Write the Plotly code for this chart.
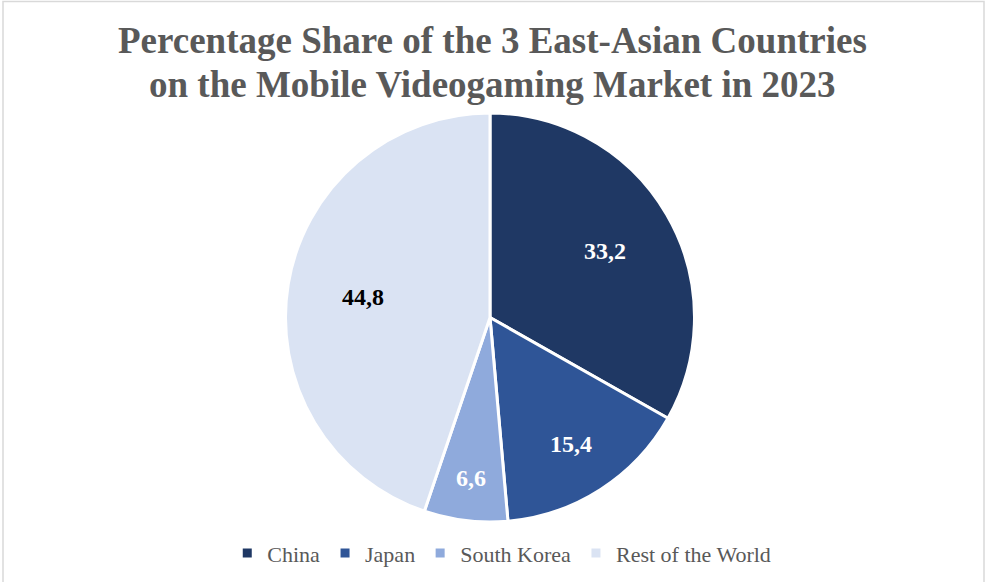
import math
import plotly.graph_objects as go

# Market share of mobile videogaming revenue, 2023 (%)
regions = ["China", "Japan", "South Korea", "Rest of the World"]
shares = [33.2, 15.4, 6.6, 44.8]
slice_colors = ["#1F3864", "#2F5597", "#8FAADC", "#DAE3F3"]
label_colors = ["#FFFFFF", "#FFFFFF", "#FFFFFF", "#000000"]
# radial placement of each value label, as a fraction of the pie radius
label_radius = [0.65, 0.735, 0.79, 0.63]

title_lines = [
    "Percentage Share of the 3 East-Asian Countries",
    "on the Mobile Videogaming Market in 2023",
]

W, H = 985, 582
ML, MR, MT, MB = 0, 5, 113, 60
plot_w = W - ML - MR
plot_h = H - MT - MB
radius_px = min(plot_w, plot_h) / 2

fig = go.Figure(
    go.Pie(
        labels=regions,
        values=shares,
        sort=False,
        direction="clockwise",
        rotation=0,
        marker=dict(colors=slice_colors, line=dict(color="#FFFFFF", width=3)),
        textinfo="none",
        hoverinfo="label+value",
        showlegend=True,
    )
)

# Value labels placed along each slice's bisector
total = sum(shares)
cum = 0.0
for name, val, col, rf in zip(regions, shares, label_colors, label_radius):
    mid = (cum + val / 2) / total * 2 * math.pi  # clockwise from 12 o'clock
    cum += val
    fig.add_annotation(
        x=0.5 + rf * radius_px * math.sin(mid) / plot_w,
        y=0.5 + rf * radius_px * math.cos(mid) / plot_h,
        xref="paper", yref="paper",
        text=f"{val:.1f}".replace(".", ","),
        showarrow=False, xanchor="center", yanchor="middle",
        font=dict(family="Liberation Serif", size=24, color=col, weight="bold"),
    )

# Two-line chart title
for i, line in enumerate(title_lines):
    fig.add_annotation(
        x=0.5025, xref="paper", xanchor="center",
        y=1 + (MT - (40 + 44 * i)) / plot_h, yref="paper", yanchor="middle",
        text=line, showarrow=False,
        font=dict(family="Liberation Serif", size=37, color="#595959", weight="bold"),
    )

# Thin chart-area frame
fig.add_shape(
    type="rect", xref="paper", yref="paper",
    x0=(3 - ML) / plot_w, x1=(984 - ML) / plot_w,
    y0=-0.3, y1=1 + (MT - 1.5) / plot_h,
    line=dict(color="#D9D9D9", width=1.5), fillcolor="rgba(0,0,0,0)", layer="below",
)

fig.update_layout(
    width=W, height=H,
    margin=dict(l=ML, r=MR, t=MT, b=MB),
    paper_bgcolor="#FFFFFF", plot_bgcolor="#FFFFFF",
    separators=", ",
    legend=dict(
        orientation="h", x=0.512, xanchor="center", y=-0.025, yanchor="top",
        font=dict(family="Liberation Serif", size=22, color="#595959"),
        itemwidth=30, traceorder="normal",
    ),
)

fig.write_html("out.html")
